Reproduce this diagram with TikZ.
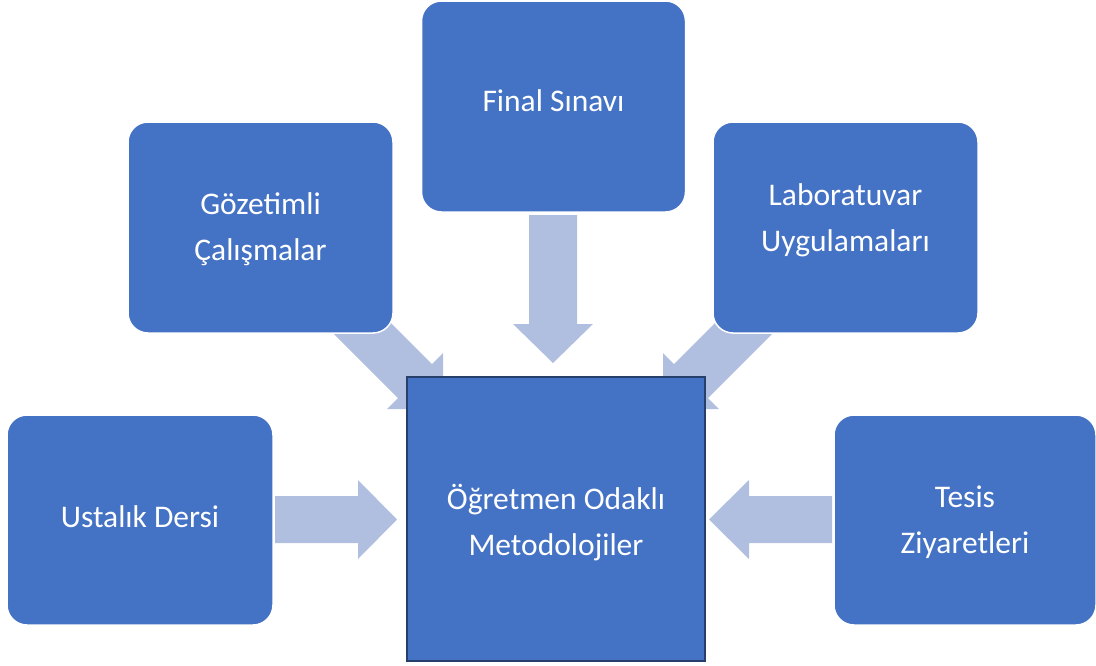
\documentclass[tikz,border=0pt]{standalone}
\usepackage{fontspec}
\setmainfont{Carlito}
\definecolor{boxblue}{HTML}{4472C4}
\definecolor{arrowblue}{HTML}{B0BEDF}
\definecolor{edgeblue}{HTML}{263F6B}
\tikzset{
  sidebox/.style={rectangle, rounded corners=20pt, fill=boxblue, draw=white,
    line width=1.5pt, inner sep=0pt},
  hubbox/.style={rectangle, fill=boxblue, draw=edgeblue, line width=2.8pt,
    inner sep=0pt},
  boxtext/.style={text=white, align=center, inner sep=0pt,
    font=\fontsize{31.5}{46}\selectfont},
  blockarrow/.style={fill=arrowblue, draw=none}
}
\begin{document}
\begin{tikzpicture}[x=1pt, y=-1pt]
\useasboundingbox (0,0) rectangle (1096,665);

% block arrows pointing into the central box (drawn first, boxes sit on top)
\fill[blockarrow] (529,215) -- (577,215) -- (577,324) -- (593,324)
  -- (553,363) -- (513,324) -- (529,324) -- cycle;
\fill[blockarrow] (275,496) -- (358,496) -- (358,480) -- (397,519.5)
  -- (358,559) -- (358,543) -- (275,543) -- cycle;
\fill[blockarrow] (832,496) -- (749,496) -- (749,480) -- (709,519.5)
  -- (749,559) -- (749,543) -- (832,543) -- cycle;
\fill[blockarrow] (355,287) -- (432,364) -- (443,353) -- (443,409)
  -- (387,409) -- (398,398) -- (321,321) -- cycle;
\fill[blockarrow] (751,287) -- (674,364) -- (663,353) -- (663,409)
  -- (719,409) -- (708,398) -- (785,321) -- cycle;

% surrounding boxes
\node[sidebox, minimum width=264pt, minimum height=211pt] (fin) at (553.5,106.5) {};
\node[sidebox, minimum width=265pt, minimum height=211pt] (goz) at (260.5,227.5) {};
\node[sidebox, minimum width=265pt, minimum height=211pt] (lab) at (845.5,227.5) {};
\node[sidebox, minimum width=266pt, minimum height=210pt] (ust) at (140,520) {};
\node[sidebox, minimum width=262pt, minimum height=210pt] (tes) at (965,520) {};

% central box
\node[hubbox, minimum width=298pt, minimum height=284pt] (mid) at (556,519) {};

% labels
\node[boxtext] (finlabel) at ([yshift=6pt]fin.center) {Final Sınavı};
\node[boxtext] (gozlabel) at ([yshift=-1.5pt]goz.center) {Gözetimli\\Çalışmalar};
\node[boxtext] (lablabel) at ([yshift=7pt]lab.center) {Laboratuvar\\Uygulamaları};
\node[boxtext] (ustlabel) at ([yshift=3pt]ust.center) {Ustalık Dersi};
\node[boxtext] (teslabel) at ([yshift=-2pt]tes.center) {Tesis\\Ziyaretleri};
\node[boxtext] (midlabel) at ([yshift=-3.5pt]mid.center) {Öğretmen Odaklı\\Metodolojiler};
\end{tikzpicture}
\end{document}
